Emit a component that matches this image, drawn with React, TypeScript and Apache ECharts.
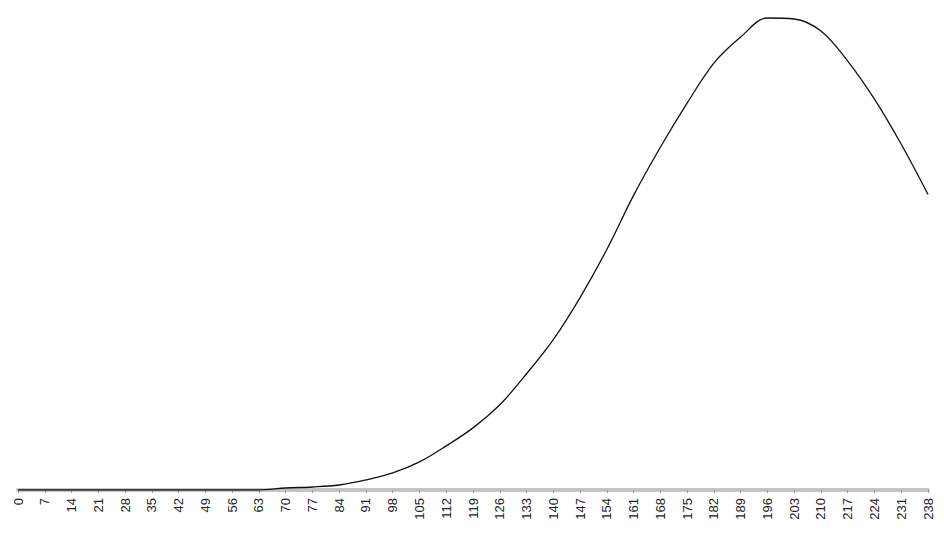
import React, { useEffect, useRef } from "react";
import * as echarts from "echarts";

const categories = ["0","7","14","21","28","35","42","49","56","63","70","77","84","91","98","105","112","119","126","133","140","147","154","161","168","175","182","189","196","203","210","217","224","231","238"];
const values = [0,0,0,0,0,0,0,0,0,0,2,3,5,10,17,28,44,62,85,116,150,192,240,294,342,386,426,452,471,470,458,428,390,345,295];

export default function App() {
  const ref = useRef<HTMLDivElement>(null);
  useEffect(() => {
    const chart = echarts.init(ref.current!, null, { renderer: "svg" });
    chart.setOption({
      animation: false,
      grid: { left: 10, right: 8, top: 6, bottom: 44 },
      xAxis: {
        type: "category",
        data: categories,
        boundaryGap: false,
        axisLine: { lineStyle: { color: "#c4c4c4", width: 4 } },
        axisTick: { show: true, lineStyle: { color: "#999" }, length: 3 },
        axisLabel: { rotate: 90, color: "#222", fontFamily: "Liberation Sans, Arial", fontSize: 13, margin: 8, interval: 0 },
      },
      yAxis: { type: "value", min: 0, max: 475, show: false, splitLine: { show: false } },
      series: [{
        type: "line",
        data: values,
        symbol: "none",
        smooth: 0.35,
        lineStyle: { color: "#111", width: 1.3 },
      }],
    });
    return () => chart.dispose();
  }, []);
  return <div ref={ref} style={{ width: 928, height: 526 }} />;
}
